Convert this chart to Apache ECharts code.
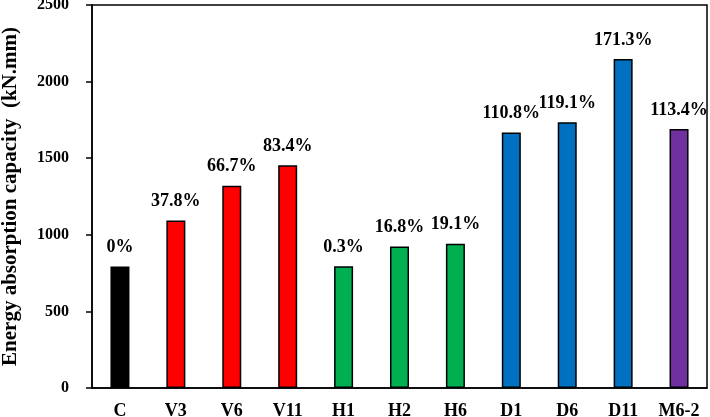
<!DOCTYPE html>
<html>
<head>
<meta charset="utf-8">
<script src="https://cdn.jsdelivr.net/npm/echarts@6/dist/echarts.min.js"></script>
<style>
  html, body { margin: 0; padding: 0; background: #fff; }
  #chart { width: 710px; height: 417px; }
</style>
</head>
<body>
<div id="chart"></div>
<script>
// specimen names, energy values and the increase labels
var categories = ['C', 'V3', 'V6', 'V11', 'H1', 'H2', 'H6', 'D1', 'D6', 'D11', 'M6-2'];
var energy = [793, 1093, 1320, 1454, 795, 924, 941, 1668, 1734, 2147, 1690];
var increase = ['0%', '37.8%', '66.7%', '83.4%', '0.3%', '16.8%', '19.1%', '110.8%', '119.1%', '171.3%', '113.4%'];
var barColors = ['#000000', '#FF0000', '#FF0000', '#FF0000', '#00B050', '#00B050', '#00B050', '#0070C0', '#0070C0', '#0070C0', '#7030A0'];

var font = '"Liberation Serif", "Times New Roman", serif';

var chart = echarts.init(document.getElementById('chart'));
chart.setOption({
  animation: false,
  grid: {
    left: 92, right: 3, top: 5, bottom: 29,
    outerBoundsMode: 'none',
    containLabel: false,
    show: true, borderColor: '#000', borderWidth: 1.5
  },
  xAxis: {
    type: 'category',
    data: categories,
    axisLine: { lineStyle: { color: '#000', width: 1.5 } },
    axisTick: { show: false },
    axisLabel: { color: '#000', fontFamily: font, fontWeight: 'bold', fontSize: 18, margin: 14 }
  },
  yAxis: {
    type: 'value',
    min: 0, max: 2500, interval: 500,
    name: 'Energy absorption capacity  (kN.mm)',
    nameLocation: 'middle',
    nameGap: 71,
    nameTextStyle: { color: '#000', fontFamily: font, fontWeight: 'bold', fontSize: 21 },
    axisLine: { show: true, lineStyle: { color: '#000', width: 1.5 } },
    axisTick: { show: true, inside: false, length: 6, lineStyle: { color: '#000', width: 1.5 } },
    splitLine: { show: false },
    axisLabel: {
      color: '#000', fontFamily: font, fontWeight: 'bold', fontSize: 16, margin: 23,
      formatter: function (v) { return String(v); }
    }
  },
  series: [{
    type: 'bar',
    barWidth: '34%',
    data: energy.map(function (v, i) {
      return {
        value: v,
        itemStyle: { color: barColors[i] },
        label: { formatter: increase[i] }
      };
    }),
    itemStyle: { borderColor: '#000', borderWidth: 1.5 },
    label: {
      show: true,
      position: 'top',
      distance: 10,
      color: '#000',
      fontFamily: font,
      fontWeight: 'bold',
      fontSize: 18
    }
  }]
});
</script>
</body>
</html>
